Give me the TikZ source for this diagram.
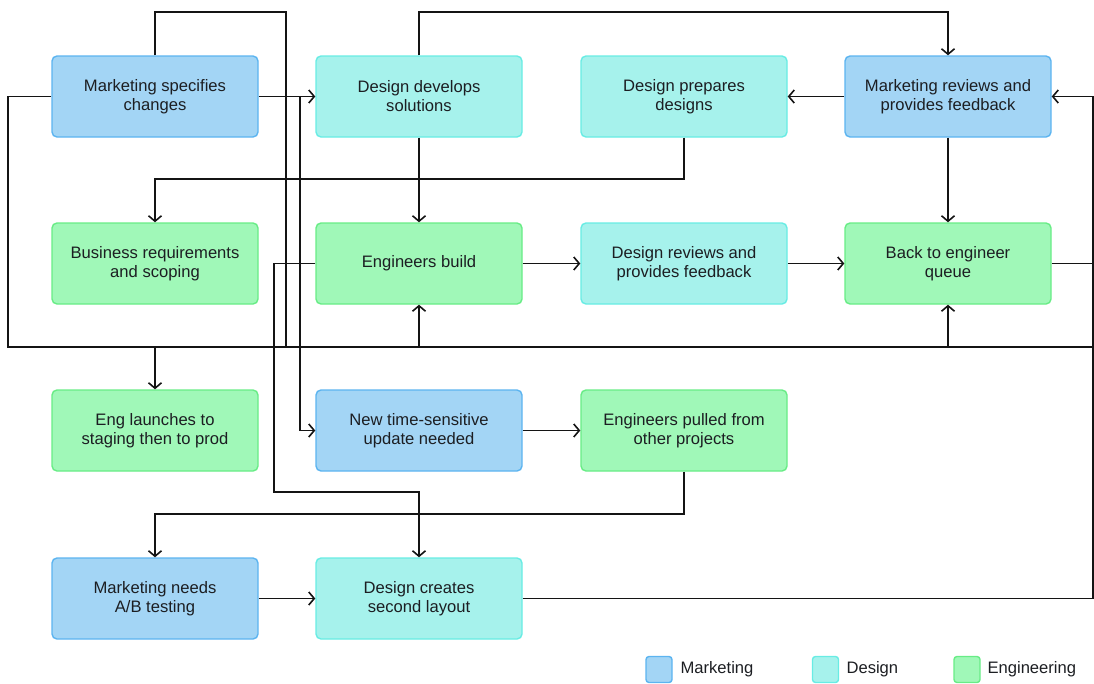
\documentclass[tikz,border=0pt]{standalone}
\usepackage{fontspec}
\setmainfont{Liberation Sans}
\usetikzlibrary{arrows.meta}

\definecolor{mkfill}{RGB}{163,213,245}
\definecolor{mkline}{RGB}{92,180,240}
\definecolor{dsfill}{RGB}{166,242,236}
\definecolor{dsline}{RGB}{104,236,228}
\definecolor{enfill}{RGB}{160,248,184}
\definecolor{enline}{RGB}{104,236,134}
\definecolor{wirecol}{RGB}{20,20,20}
\definecolor{txt}{RGB}{28,30,34}

\tikzset{
  box/.style={rounded corners=5pt, minimum width=206pt, minimum height=81pt,
    align=center, line width=1.4pt, inner sep=2pt,
    font=\fontsize{16.6}{19}\selectfont, text=txt},
  mk/.style={box, fill=mkfill, draw=mkline},
  ds/.style={box, fill=dsfill, draw=dsline},
  en/.style={box, fill=enfill, draw=enline},
  wire/.style={line width=1.6pt, draw=wirecol},
  arr/.style={wire, -{Straight Barb[length=5.5pt, width=13pt, line width=1.6pt]}},
  keybox/.style={rounded corners=3pt, minimum width=26pt, minimum height=26pt,
    line width=1.4pt, inner sep=0pt},
  keytext/.style={anchor=west, font=\fontsize{16.6}{19}\selectfont, text=txt}
}

\begin{document}
\begin{tikzpicture}[x=1pt, y=-1pt]
\useasboundingbox (0,0) rectangle (1094,683);

% process steps
\node[mk] (ms)  at (155,96.5)  {Marketing specifies\\changes};
\node[ds] (dd)  at (419,96.5)  {Design develops\\solutions};
\node[ds] (dp)  at (684,96.5)  {Design prepares\\designs};
\node[mk] (mr)  at (948,96.5)  {Marketing reviews and\\provides feedback};
\node[en] (br)  at (155,263.5) {Business requirements\\and scoping};
\node[en] (eb)  at (419,263.5) {Engineers build};
\node[ds] (dr)  at (684,263.5) {Design reviews and\\provides feedback};
\node[en] (bq)  at (948,263.5) {Back to engineer\\queue};
\node[en] (el)  at (155,430.5) {Eng launches to\\staging then to prod};
\node[mk] (nt)  at (419,430.5) {New time-sensitive\\update needed};
\node[en] (ep)  at (684,430.5) {Engineers pulled from\\other projects};
\node[mk] (ma)  at (155,598.5) {Marketing needs\\A/B testing};
\node[ds] (dcs) at (419,598.5) {Design creates\\second layout};

% routing points
\coordinate (ytop) at (0,12);
\coordinate (busL) at (8,347);
\coordinate (busR) at (1093,347);
\coordinate (rx)   at (1093,96.5);
\coordinate (t1)   at (286,12);
\coordinate (j1)   at (300,96.5);
\coordinate (k1)   at (274,492);
\coordinate (y2)   at (0,179);
\coordinate (y3)   at (0,514);

% shared bus along the middle
\draw[wire] (ms.west) -| (busL) -- (busR);
\draw[wire] (ms.north) |- (t1) -- (t1 |- busL);
\draw[arr] (eb.south |- busL) -- (eb.south);
\draw[arr] (bq.south |- busL) -- (bq.south);
\draw[arr] (el.north |- busL) -- (el.north);

% right-hand return line
\draw[arr] (dcs.east) -| (rx) -- (mr.east);
\draw[wire] (bq.east) -- (bq.east -| rx);

% top row
\draw[arr] (ms.east) -- (dd.west);
\draw[arr] (j1) |- (nt.west);
\draw[arr] (dd.north) |- (mr.north |- ytop) -- (mr.north);
\draw[arr] (mr.west) -- (dp.east);
\draw[arr] (dd.south) -- (eb.north);
\draw[arr] (mr.south) -- (bq.north);
\draw[arr] (dp.south) |- (br.north |- y2) -- (br.north);

% middle rows
\draw[arr] (eb.east) -- (dr.west);
\draw[arr] (dr.east) -- (bq.west);
\draw[arr] (eb.west) -| (k1) -| (dcs.north);
\draw[arr] (nt.east) -- (ep.west);
\draw[arr] (ep.south) |- (ma.north |- y3) -- (ma.north);
\draw[arr] (ma.east) -- (dcs.west);

% legend
\node[keybox, fill=mkfill, draw=mkline] (k-mk) at (659,669.5) {};
\node[keytext] (l-mk) at (677,669.5) {Marketing};
\node[keybox, fill=dsfill, draw=dsline] (k-ds) at (825.5,669.5) {};
\node[keytext] (l-ds) at (843,669.5) {Design};
\node[keybox, fill=enfill, draw=enline] (k-en) at (967,669.5) {};
\node[keytext] (l-en) at (984,669.5) {Engineering};
\end{tikzpicture}
\end{document}
